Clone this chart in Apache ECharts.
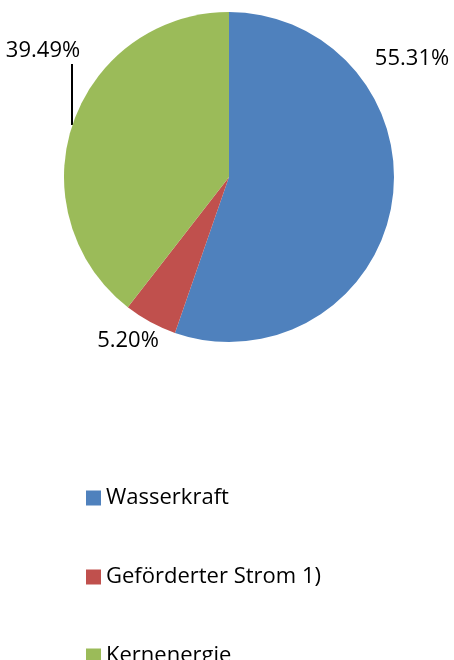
<!DOCTYPE html>
<html>
<head>
<meta charset="utf-8">
<script src="https://cdn.jsdelivr.net/npm/echarts@6/dist/echarts.min.js"></script>
<style>
  html, body { margin: 0; padding: 0; background: #fff; }
  #chart { width: 454px; height: 660px; }
</style>
</head>
<body>
<div id="chart"></div>
<script>
const categories = ["Wasserkraft", "Geförderter Strom 1)", "Kernenergie"];
const shares = [55.31, 5.2, 39.49];
const colors = ["#4F81BD", "#C0504D", "#9BBB59"];

// label anchor positions (label boxes, not marks)
const labelPos = [
  { x: 412, y: 59 },
  { x: 128, y: 341 },
  { x: 43, y: 51 }
];

const chart = echarts.init(document.getElementById("chart"));

const option = {
  animation: false,
  color: colors,
  textStyle: { fontFamily: "Open Sans" },
  legend: {
    orient: "vertical",
    left: 86,
    top: 487,
    height: 220,
    padding: 0,
    icon: "rect",
    itemWidth: 15,
    itemHeight: 15,
    itemGap: 57,
    textStyle: { fontSize: 22, color: "#000" },
    data: categories
  },
  series: [
    {
      type: "pie",
      center: [229, 177],
      radius: 165,
      startAngle: 90,
      clockwise: true,
      data: categories.map((name, i) => ({
        name,
        value: shares[i],
        labelLine: { show: i === 2 }
      })),
      label: {
        show: true,
        position: "outside",
        overflow: "none",
        formatter: (p) => p.value.toFixed(2) + "%",
        fontSize: 22,
        color: "#000"
      },
      labelLine: {
        show: true,
        lineStyle: { color: "#000", width: 2 }
      },
      labelLayout: (params) => {
        const p = labelPos[params.dataIndex];
        const res = { x: p.x, y: p.y, align: "center", verticalAlign: "middle" };
        if (params.dataIndex === 2) {
          res.labelLinePoints = [[72, 125], [72, 96], [72, 64]];
        }
        return res;
      }
    }
  ]
};

chart.setOption(option);
</script>
</body>
</html>
